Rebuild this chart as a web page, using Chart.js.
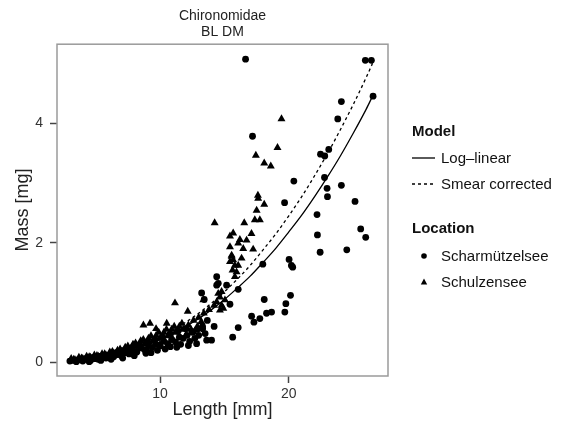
<!DOCTYPE html>
<html>
<head>
<meta charset="utf-8">
<script src="https://cdn.jsdelivr.net/npm/chart.js@4.4.1/dist/chart.umd.min.js"></script>
<style>
  body { margin: 0; background: #fff; }
  #wrap { position: relative; width: 570px; height: 427px; font-family: "Liberation Sans", Arial, sans-serif; }
  #scatter { position: absolute; left: 0; top: 0; }
  .lg { position: absolute; font-size: 15px; line-height: 18px; color: #111; white-space: nowrap; }
  .hd { font-weight: bold; }
  .sym { position: absolute; }
</style>
</head>
<body>
<div id="wrap">
  <canvas id="scatter" width="570" height="427"></canvas>

  <div class="lg hd" style="left:412px;top:122px">Model</div>
  <svg class="sym" style="left:410px;top:150px" width="28" height="16"><line x1="2" y1="8" x2="25" y2="8" stroke="#000" stroke-width="1.3"/></svg>
  <div class="lg" style="left:441px;top:149px">Log–linear</div>
  <svg class="sym" style="left:410px;top:176px" width="28" height="16"><line x1="2" y1="8" x2="25" y2="8" stroke="#000" stroke-width="1.3" stroke-dasharray="3,3"/></svg>
  <div class="lg" style="left:441px;top:175px">Smear corrected</div>

  <div class="lg hd" style="left:412px;top:219px">Location</div>
  <svg class="sym" style="left:416px;top:248px" width="16" height="16"><circle cx="8" cy="8" r="2.8" fill="#000"/></svg>
  <div class="lg" style="left:441px;top:247px">Scharmützelsee</div>
  <svg class="sym" style="left:416px;top:274px" width="16" height="16"><polygon points="8,4.6 11.2,10.4 4.8,10.4" fill="#000"/></svg>
  <div class="lg" style="left:441px;top:273px">Schulzensee</div>
</div>

<script>
// Scharmützelsee (circles): [length mm, mass mg]
const scharmuetzelsee = [
  [16.64,5.07],[25.94,5.05],[26.41,5.05],[26.54,4.45],[24.08,4.36],[23.80,4.07],[17.18,3.78],
  [22.46,3.48],[22.79,3.45],[23.10,3.56],[20.39,3.03],[22.77,3.09],[22.97,2.91],[23.00,2.77],
  [24.08,2.96],[19.67,2.67],[25.14,2.69],[22.19,2.47],[25.58,2.23],[25.97,2.09],[22.22,2.13],
  [22.43,1.84],[24.50,1.88],[20.02,1.72],[20.20,1.62],[20.30,1.59],[17.98,1.64],
  [14.40,1.43],[14.52,1.32],[15.17,1.29],[16.07,1.22],[13.23,1.16],[13.43,1.05],[15.43,0.97],
  [18.09,1.05],[20.13,1.12],[19.77,0.98],[19.69,0.84],[18.27,0.82],[18.66,0.84],[17.75,0.73],
  [17.11,0.77],[17.29,0.67],[16.07,0.58],[15.64,0.42],[13.67,0.70],[13.31,0.56],[13.62,0.37],
  [14.00,0.37],[12.58,0.51],[12.84,0.31],[14.40,1.29],
  [3.0,0.02],[3.2,0.03],[3.5,0.01],[3.8,0.04],[4.0,0.02],[4.3,0.05],[4.6,0.03],[4.9,0.06],
  [5.2,0.05],[5.5,0.08],[5.8,0.07],[6.1,0.10],[6.4,0.09],[6.7,0.13],[7.0,0.11],[7.3,0.16],
  [7.6,0.14],[7.9,0.20],[8.2,0.17],[8.5,0.24],[8.8,0.21],[9.1,0.28],[9.4,0.25],[9.7,0.30],
  [10.0,0.27],[10.3,0.35],[10.6,0.31],[10.9,0.38],[11.2,0.34],[11.5,0.42],[11.8,0.40],
  [12.1,0.45],[12.5,0.50],[12.9,0.55],[13.3,0.60],[13.0,0.45],[12.3,0.35],[11.6,0.30],
  [10.8,0.26],[9.8,0.20],[8.9,0.15],[8.0,0.11],[7.1,0.07],[6.2,0.05],[5.4,0.03],[4.5,0.01],
  [3.6,0.04],[4.2,0.06],[4.8,0.08],[5.4,0.10],[6.0,0.12],[6.6,0.16],[7.2,0.20],[7.8,0.24],
  [8.4,0.29],[9.0,0.34],[9.6,0.38],[10.2,0.42],[10.8,0.47],[11.4,0.52],[12.0,0.56],
  [12.7,0.40],[13.5,0.48],[14.2,0.60],[9.3,0.16],[10.4,0.22],[11.3,0.25],[12.2,0.28]
];

// Schulzensee (triangles): [length mm, mass mg]
const schulzensee = [
  [19.43,4.07],[19.12,3.59],[17.44,3.46],[18.09,3.33],[18.60,3.28],[17.60,2.79],[17.62,2.74],
  [18.09,2.64],[17.50,2.54],[17.36,2.38],[17.75,2.38],[14.24,2.33],[16.54,2.33],[17.10,2.15],
  [15.68,2.16],[15.43,2.11],[16.20,2.05],[16.72,2.04],[16.07,1.99],[16.46,1.90],[17.23,1.89],
  [15.43,1.93],[15.56,1.77],[15.68,1.71],[16.33,1.74],[15.81,1.62],[15.56,1.79],[15.43,1.68],
  [16.07,1.62],[15.63,1.54],[15.94,1.51],[15.81,1.43],
  [13.36,1.04],[14.78,1.18],[14.65,1.09],[15.04,1.04],[14.40,1.01],[14.78,0.95],[14.91,0.90],
  [14.65,0.87],[14.52,1.15],[11.16,0.99],[12.15,0.85],[10.52,0.65],[8.71,0.62],[9.22,0.65],
  [9.69,0.56],
  [3.1,0.06],[3.4,0.04],[3.7,0.08],[4.0,0.06],[4.3,0.10],[4.6,0.08],[4.9,0.12],[5.2,0.10],
  [5.5,0.14],[5.8,0.12],[6.1,0.17],[6.4,0.15],[6.7,0.20],[7.0,0.18],[7.3,0.25],[7.6,0.22],
  [7.9,0.30],[8.2,0.27],[8.5,0.36],[8.8,0.31],[9.1,0.40],[9.4,0.35],[9.7,0.45],[10.0,0.40],
  [10.3,0.50],[10.6,0.44],[10.9,0.55],[11.2,0.50],[11.5,0.60],[11.8,0.55],[12.2,0.62],
  [12.6,0.70],[13.0,0.75],[13.4,0.82],[13.8,0.88],[14.2,0.95],[12.9,0.60],[12.0,0.45],
  [11.0,0.38],[10.0,0.30],[9.0,0.22],[8.0,0.16],[7.0,0.12],[6.0,0.09],[5.0,0.06],
  [3.3,0.05],[3.9,0.07],[4.5,0.09],[5.1,0.11],[5.7,0.14],[6.3,0.18],[6.9,0.22],[7.5,0.27],
  [8.1,0.32],[8.7,0.38],[9.3,0.44],[9.9,0.50],[10.5,0.55],[11.1,0.60],[11.7,0.65],
  [12.4,0.55],[13.2,0.68]
];

// model curves
const curveLength = [3, 5, 7, 9, 10, 11, 12, 13, 14, 15, 16, 17, 18, 19, 20, 21, 22, 23, 24, 25, 26, 26.5];
const massLogLinear = [0.02, 0.065, 0.15, 0.29, 0.38, 0.48, 0.60, 0.73, 0.88, 1.05, 1.24, 1.44, 1.67, 1.91, 2.18, 2.46, 2.77, 3.10, 3.45, 3.83, 4.23, 4.45];
const massSmear = [0.02, 0.073, 0.17, 0.33, 0.42, 0.54, 0.67, 0.82, 0.99, 1.18, 1.39, 1.62, 1.88, 2.15, 2.45, 2.77, 3.12, 3.49, 3.89, 4.31, 4.76, 5.00];

const xTicks = [10, 20];
const yTicks = [0, 2, 4];

const toXY = arr => arr.map(p => ({ x: p[0], y: p[1] }));
const curve = ys => curveLength.map((x, i) => ({ x: x, y: ys[i] }));

const boxPlugin = {
  id: 'box',
  beforeDatasetsDraw(chart) {
    const a = chart.chartArea, c = chart.ctx;
    c.save();
    c.strokeStyle = '#9a9a9a';
    c.lineWidth = 1.5;
    c.strokeRect(a.left, a.top, a.right - a.left, a.bottom - a.top);
    c.restore();
  }
};

const font = '"Liberation Sans", Arial, sans-serif';

const ctx = document.getElementById('scatter');
let scatter = new Chart(ctx, {
  type: 'scatter',
  data: {
    datasets: [{
      label: 'Scharmützelsee',
      data: toXY(scharmuetzelsee),
      pointStyle: 'circle',
      pointRadius: 3.4,
      backgroundColor: '#000',
      borderWidth: 0
    }, {
      label: 'Schulzensee',
      data: toXY(schulzensee),
      pointStyle: 'triangle',
      pointRadius: 4.6,
      backgroundColor: '#000',
      borderWidth: 0
    }, {
      label: 'Log-linear',
      data: curve(massLogLinear),
      showLine: true,
      borderColor: '#000',
      borderWidth: 1.3,
      pointRadius: 0,
      cubicInterpolationMode: 'monotone'
    }, {
      label: 'Smear corrected',
      data: curve(massSmear),
      showLine: true,
      borderColor: '#000',
      borderWidth: 1.3,
      borderDash: [3, 3],
      pointRadius: 0,
      cubicInterpolationMode: 'monotone'
    }]
  },
  options: {
    responsive: false,
    animation: false,
    devicePixelRatio: 1,
    layout: { padding: { left: 0, right: 182, top: 0, bottom: 0 } },
    plugins: {
      legend: { display: false },
      tooltip: { enabled: false },
      title: {
        display: true,
        fullSize: false,
        text: ['Chironomidae', 'BL DM'],
        color: '#222',
        font: { family: font, size: 14, weight: 'normal', lineHeight: 1.15 },
        padding: { top: 8, bottom: 4 }
      }
    },
    scales: {
      x: {
        type: 'linear',
        position: 'bottom',
        min: 2.0,
        max: 27.7,
        afterBuildTicks: s => { s.ticks = xTicks.map(v => ({ value: v })); },
        afterFit: s => { s.height = 51; },
        border: { display: false },
        grid: { drawOnChartArea: false, drawTicks: true, tickLength: 7, tickColor: '#444', tickWidth: 1.5 },
        ticks: { color: '#333', padding: 3, maxRotation: 0, font: { family: font, size: 14 } },
        title: { display: true, text: 'Length [mm]', color: '#222', font: { family: font, size: 18 }, padding: { top: 0, bottom: 6 } }
      },
      y: {
        type: 'linear',
        min: -0.23,
        max: 5.32,
        afterBuildTicks: s => { s.ticks = yTicks.map(v => ({ value: v })); },
        afterFit: s => { s.width = 57; },
        border: { display: false },
        grid: { drawOnChartArea: false, drawTicks: true, tickLength: 7, tickColor: '#444', tickWidth: 1.5 },
        ticks: { color: '#333', padding: 7, font: { family: font, size: 14 } },
        title: { display: true, text: 'Mass [mg]', color: '#222', font: { family: font, size: 18 }, padding: { top: 12, bottom: 0 } }
      }
    }
  },
  plugins: [boxPlugin]
});
</script>
</body>
</html>
